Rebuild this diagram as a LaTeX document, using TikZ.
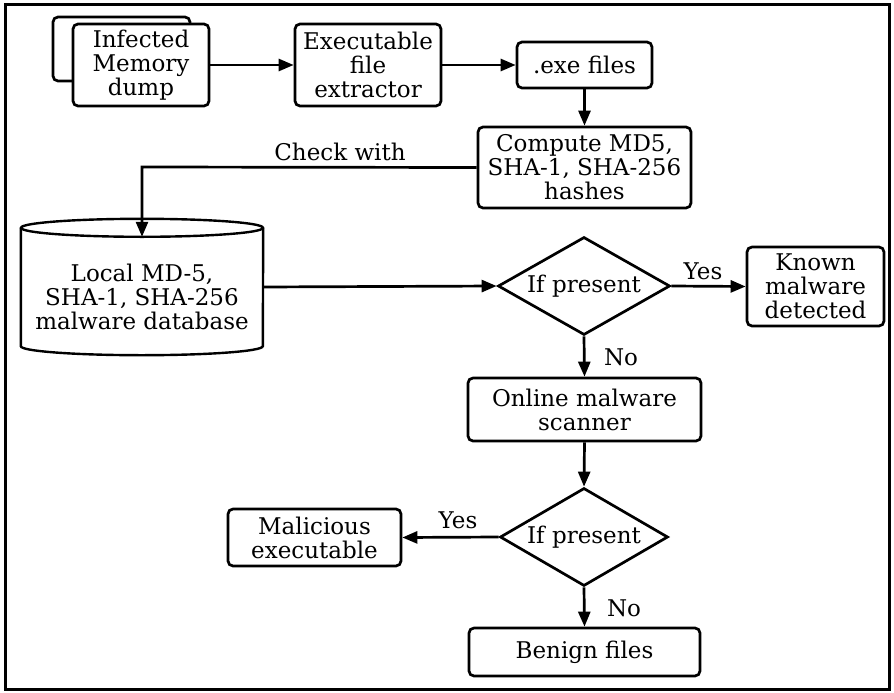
\documentclass[tikz,border=0pt]{standalone}
\usepackage{fontspec}
\setmainfont{DejaVu Serif}
\usetikzlibrary{arrows.meta,shapes.geometric}
\tikzset{
  box/.style={draw, line width=2.7pt, rounded corners=5pt, align=center, inner sep=0pt, fill=white},
  decision/.style={draw, diamond, line width=2.7pt, inner sep=0pt},
  flow/.style={line width=2.7pt, -{Triangle[length=15pt,width=12pt]}},
  lbl/.style={inner sep=0pt, align=center},
}
\begin{document}
\begin{tikzpicture}[x=1pt,y=-1pt,font=\fontsize{23}{24}\selectfont]
\useasboundingbox (0,0) rectangle (894,693);
% outer frame
\draw[line width=3pt] (5,5) rectangle (889,689);

% stacked memory dump boxes
\node[box, minimum width=137pt, minimum height=64pt] (memback) at (121.5,49) {};
\node[box, minimum width=136pt, minimum height=82pt] (mem) at (141,65) {Infected\\Memory\\dump};
\node[box, minimum width=146pt, minimum height=82pt] (ext) at (368,65) {Executable\\file\\extractor};
\node[box, minimum width=135pt, minimum height=46pt] (exe) at (584.5,65) {.exe files};
\node[box, minimum width=213pt, minimum height=81pt] (hash) at (584.5,167.5) {Compute MD5,\\SHA-1, SHA-256\\hashes};

% hash database drawn as a cylinder
\node[minimum width=242pt, minimum height=100pt, inner sep=0pt] (db) at (142,287) {};
\draw[line width=2.4pt]
  ([yshift=9pt]db.north west) -- ([yshift=-9pt]db.south west)
  arc[start angle=180, end angle=360, x radius=121pt, y radius=9pt]
  -- ([yshift=9pt]db.north east);
\draw[line width=2.4pt] ([yshift=9pt]db.north) ellipse [x radius=121pt, y radius=9pt];
\node[lbl] (dbtext) at (142,297) {Local MD-5,\\SHA-1, SHA-256\\malware database};

% decisions: the outline and its text are separate nodes
\node[decision, minimum width=172pt, minimum height=98pt] (d1) at (584,286) {};
\node[lbl] (d1text) at (d1.center) {If present};
\node[box, minimum width=137pt, minimum height=79pt] (known) at (815.5,286.5) {Known\\malware\\detected};
\node[box, minimum width=233pt, minimum height=63pt] (online) at (584.5,409.5) {Online malware\\scanner};
\node[decision, minimum width=168pt, minimum height=98pt] (d2) at (584,537) {};
\node[lbl] (d2text) at (d2.center) {If present};
\node[box, minimum width=173pt, minimum height=57pt] (mal) at (314.5,537.5) {Malicious\\executable};
\node[box, minimum width=231pt, minimum height=48pt] (benign) at (584.5,652) {Benign files};

% connectors
\draw[flow] (mem) -- (ext);
\draw[flow] (ext) -- (exe);
\draw[flow] (exe) -- (hash);
\coordinate (bend) at (142,167);
\draw[flow] (hash.west) -- (bend) -- (db.north);
\draw[flow] (db.east) -- (d1.west);
\draw[flow] (d1.east) -- (known.west);
\draw[flow] (d1.south) -- (online.north);
\draw[flow] (online.south) -- (d2.north);
\draw[flow] (d2.west) -- (mal.east);
\draw[flow] (d2.south) -- (benign.north);

% connector labels
\node[lbl] (lcheck) at (340,152) {Check with};
\node[lbl] (lyes1) at (703,271) {Yes};
\node[lbl] (lno1) at (621,357) {No};
\node[lbl] (lyes2) at (458,520) {Yes};
\node[lbl] (lno2) at (624,608) {No};
\end{tikzpicture}
\end{document}
